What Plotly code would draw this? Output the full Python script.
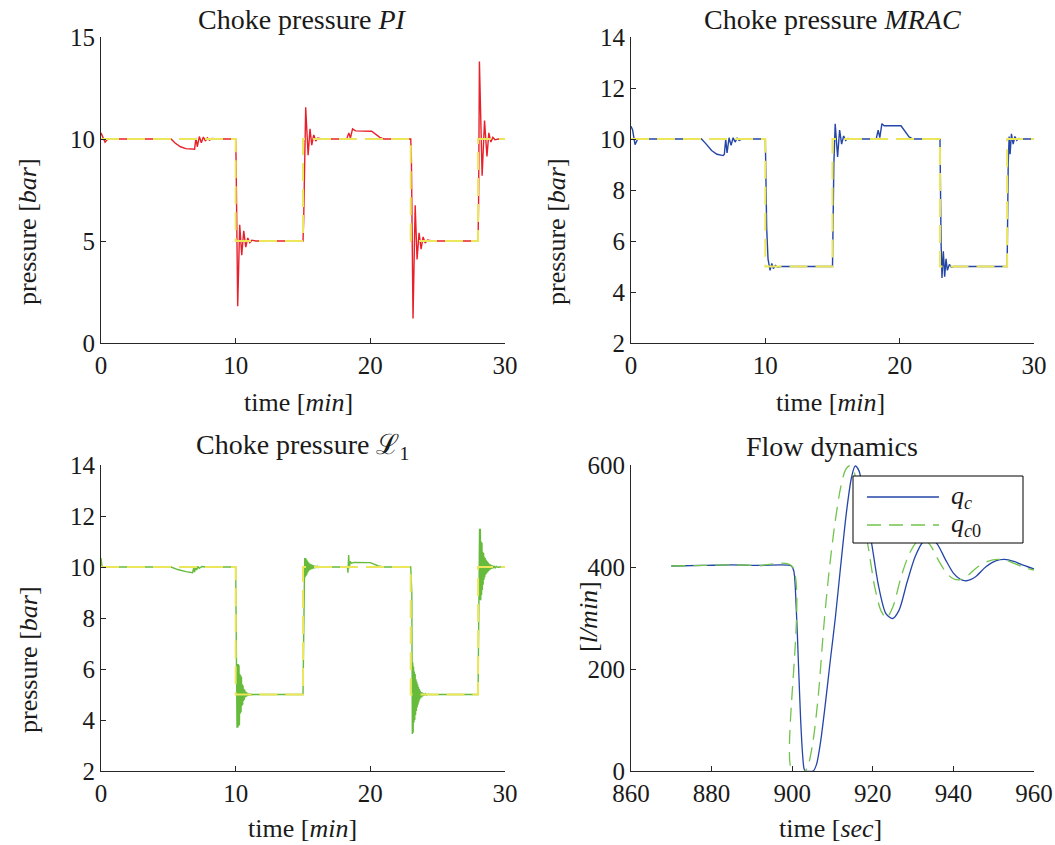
import plotly.graph_objects as go

W, H = 1055, 845
FONT = "Liberation Serif"
TXT = "#1a1a1a"
AX = "#262626"

# ---------------- data ----------------
# set-point (reference) for choke pressure [bar] vs time [min]
ref_t = [0, 10, 10, 15, 15, 23, 23, 28, 28, 30]
ref_v = [10, 10, 5, 5, 10, 10, 5, 5, 10, 10]

# PI controller response (time [min], pressure [bar])
pi_pts = [
    (0, 10.3), (0.12, 10.1), (0.3, 9.84), (0.5, 10.0), (0.8, 10.0),
    (5.2, 10.0), (5.5, 9.8), (5.9, 9.62), (6.3, 9.53), (6.8, 9.5),
    (6.95, 9.5), (7.05, 10.05), (7.15, 9.62), (7.3, 10.12), (7.45, 9.82),
    (7.6, 10.1), (7.75, 9.9), (7.9, 10.05), (8.05, 9.95), (8.25, 10.02), (8.6, 10.0),
    (10.0, 10.0), (10.03, 9.0), (10.15, 1.8), (10.3, 5.8), (10.45, 4.3),
    (10.6, 5.5), (10.75, 4.7), (10.9, 5.15), (11.05, 4.92), (11.2, 5.04), (11.5, 5.0),
    (15.0, 5.0), (15.05, 6.0), (15.2, 11.55), (15.38, 9.2), (15.52, 10.5),
    (15.65, 9.7), (15.8, 10.2), (15.95, 9.9), (16.1, 10.05), (16.4, 10.0),
    (18.25, 10.0), (18.4, 10.3), (18.52, 10.05), (18.68, 10.5), (18.9, 10.4),
    (20.1, 10.38), (20.4, 10.25), (20.7, 10.08), (21.0, 10.0),
    (23.0, 10.0), (23.05, 9.0), (23.17, 1.2), (23.33, 6.75), (23.47, 4.1),
    (23.62, 5.4), (23.77, 4.6), (23.92, 5.2), (24.07, 4.9), (24.25, 5.05), (24.6, 5.0),
    (28.0, 5.0), (28.04, 7.0), (28.1, 13.8), (28.3, 8.2), (28.48, 10.9),
    (28.66, 9.15), (28.8, 10.3), (28.95, 9.85), (29.1, 10.08), (29.25, 9.96),
    (29.5, 10.0), (30.0, 10.0),
]

# MRAC controller response
mrac_pts = [
    (0, 10.5), (0.12, 10.35), (0.3, 9.78), (0.5, 10.0), (0.8, 10.0),
    (5.25, 10.0), (5.6, 9.8), (6.0, 9.55), (6.4, 9.4), (6.86, 9.35),
    (6.95, 9.4), (7.05, 10.0), (7.15, 9.45), (7.3, 10.05), (7.45, 9.75),
    (7.6, 10.05), (7.75, 9.88), (7.9, 10.03), (8.05, 9.95), (8.25, 10.0),
    (10.0, 10.0), (10.1, 6.5), (10.2, 5.3), (10.35, 4.85), (10.48, 5.12),
    (10.6, 4.92), (10.75, 5.04), (10.9, 4.98), (11.2, 5.0),
    (15.0, 5.0), (15.1, 9.0), (15.2, 10.6), (15.38, 9.3), (15.53, 10.35),
    (15.68, 9.8), (15.83, 10.12), (15.98, 9.95), (16.15, 10.02), (16.4, 10.0),
    (18.25, 10.0), (18.4, 10.35), (18.52, 10.05), (18.68, 10.6), (18.85, 10.52),
    (20.1, 10.52), (20.4, 10.3), (20.7, 10.08), (21.0, 10.0),
    (23.0, 10.0), (23.08, 6.0), (23.15, 4.55), (23.25, 5.6), (23.35, 4.6),
    (23.45, 5.3), (23.55, 4.85), (23.7, 5.08), (23.85, 4.97), (24.0, 5.0),
    (28.0, 5.0), (28.08, 9.0), (28.15, 10.1), (28.22, 9.4), (28.32, 10.2),
    (28.45, 9.8), (28.58, 10.1), (28.72, 9.95), (28.88, 10.02), (29.1, 10.0), (30.0, 10.0),
]

# L1 adaptive controller response (fast chattering after each step)
l1_pts = [
    (0, 10.35), (0.08, 10.0), (5.2, 10.0), (5.7, 9.9), (6.3, 9.82), (6.8, 9.78),
    (6.88, 9.95), (6.95, 9.8), (7.02, 10.02), (7.1, 9.88), (7.2, 10.02), (7.3, 9.95),
    (7.5, 10.02), (7.8, 10.0),
    (10.0, 10.0), (10.05, 6.0), (10.10, 3.7), (10.13, 6.2), (10.16, 3.7), (10.19, 6.2),
    (10.22, 3.75), (10.25, 6.15), (10.28, 3.8), (10.31, 5.8), (10.34, 4.25), (10.37, 5.75),
    (10.40, 4.3), (10.43, 5.7), (10.46, 4.55), (10.49, 5.4), (10.52, 4.6), (10.55, 5.35),
    (10.58, 4.75), (10.61, 5.22), (10.64, 4.8), (10.67, 5.18), (10.70, 4.88), (10.73, 5.12),
    (10.76, 4.9), (10.79, 5.1), (10.82, 4.93), (10.86, 5.06), (10.90, 4.95), (10.94, 5.04),
    (10.98, 4.97), (11.03, 5.03), (11.08, 4.98), (11.14, 5.02), (11.2, 4.99), (11.3, 5.0),
    (15.0, 5.0), (15.1, 9.3), (15.13, 10.35), (15.16, 9.6), (15.19, 10.35), (15.22, 9.65),
    (15.25, 10.3), (15.28, 9.7), (15.31, 10.25), (15.34, 9.78), (15.37, 10.2), (15.40, 9.82),
    (15.43, 10.17), (15.46, 9.86), (15.49, 10.14), (15.52, 9.88), (15.55, 10.12), (15.58, 9.9),
    (15.62, 10.1), (15.66, 9.92), (15.70, 10.08), (15.74, 9.94), (15.78, 10.06), (15.82, 9.95),
    (15.87, 10.05), (15.92, 9.96), (15.97, 10.04), (16.03, 9.97), (16.1, 10.03), (16.17, 9.98),
    (16.25, 10.02), (16.35, 9.99), (16.5, 10.0),
    (18.3, 10.0), (18.34, 9.78), (18.39, 10.47), (18.44, 9.95), (18.5, 10.22), (18.6, 10.15),
    (18.8, 10.18), (20.0, 10.17), (20.3, 10.1), (20.6, 10.04), (21.0, 10.0),
    (23.0, 10.0), (23.08, 9.0), (23.12, 3.45), (23.15, 6.25), (23.18, 3.5), (23.21, 6.1),
    (23.24, 3.9), (23.27, 5.9), (23.30, 4.0), (23.33, 5.8), (23.36, 4.2), (23.39, 5.6),
    (23.42, 4.35), (23.45, 5.5), (23.48, 4.5), (23.51, 5.4), (23.54, 4.6), (23.57, 5.3),
    (23.60, 4.7), (23.63, 5.22), (23.66, 4.8), (23.70, 5.15), (23.74, 4.86), (23.78, 5.1),
    (23.82, 4.9), (23.87, 5.07), (23.92, 4.94), (23.97, 5.05), (24.03, 4.96), (24.1, 5.03),
    (24.18, 4.98), (24.28, 5.01), (24.45, 5.0),
    (28.0, 5.0), (28.08, 8.5), (28.11, 11.5), (28.14, 8.7), (28.17, 11.5), (28.20, 8.7),
    (28.23, 11.0), (28.26, 8.9), (28.29, 10.95), (28.32, 9.1), (28.35, 10.6), (28.38, 9.3),
    (28.41, 10.55), (28.44, 9.5), (28.47, 10.4), (28.50, 9.6), (28.53, 10.35), (28.56, 9.7),
    (28.60, 10.28), (28.64, 9.75), (28.68, 10.22), (28.72, 9.8), (28.76, 10.17), (28.80, 9.85),
    (28.85, 10.12), (28.90, 9.9), (28.95, 10.09), (29.0, 9.93), (29.06, 10.06), (29.12, 9.95),
    (29.19, 10.04), (29.27, 9.97), (29.36, 10.02), (29.46, 9.99), (29.6, 10.0), (30.0, 10.0),
]

# Flow dynamics (time [sec], flow [l/min])
qc_pts = [
    (870, 402), (878, 403), (885, 404), (892, 403), (899.8, 402), (900.4, 392),
    (901.0, 320), (901.6, 200), (902.1, 100), (902.6, 30), (903.0, 3), (903.4, 0),
    (905.2, 0), (906.0, 12), (907.0, 55), (908.2, 130), (909.5, 220), (910.7, 300),
    (912.0, 400), (913.5, 510), (914.7, 575), (915.6, 598), (916.6, 588), (918.0, 520),
    (919.7, 447), (921.5, 360), (923.3, 308), (924.9, 299), (926.5, 315), (928.5, 370),
    (930.5, 420), (932.5, 450), (934.2, 458), (936.0, 445), (938.0, 415), (940.0, 388),
    (941.7, 376), (943.2, 373), (945.5, 381), (948.0, 400), (950.5, 412), (952.7, 415),
    (955.0, 411), (957.5, 403), (960.0, 396),
]
qc0_pts = [
    (870, 402), (878, 403), (885, 404), (892, 403), (899.9, 402), (900.0, 0),
    (903.2, 0), (904.0, 12), (905.2, 60), (906.5, 150), (907.8, 280), (909.0, 380),
    (910.5, 480), (912.0, 555), (913.2, 590), (914.2, 598), (915.2, 590), (916.5, 540),
    (918.7, 447), (920.5, 360), (922.0, 315), (923.4, 300), (925.0, 322), (927.0, 380),
    (929.0, 425), (931.0, 450), (932.6, 456), (934.5, 440), (936.5, 410), (938.5, 386),
    (940.0, 377), (941.5, 375), (943.5, 383), (946.0, 400), (948.5, 411), (951.0, 415),
    (953.5, 412), (956.0, 404), (958.0, 398), (960.0, 394),
]

pi_ticks = [0, 5, 10, 15]
p_ticks = [2, 4, 6, 8, 10, 12, 14]
min_ticks = [0, 10, 20, 30]
sec_ticks = [860, 880, 900, 920, 940, 960]
flow_ticks = [0, 200, 400, 600]
legend_labels = ["<i>q<sub>c</sub></i>", "<i>q</i><sub><i>c</i>0</sub>"]

RED = "#e8202a"
BLUE = "#2546a8"
GREEN = "#66bb3c"
YELLOW = "#ece65a"
GREEN2 = "#72c44c"


def unzip(pts):
    return [p[0] for p in pts], [p[1] for p in pts]


def px(x, y):
    return x / W, 1 - y / H


fig = go.Figure()

pairs = [(pi_pts, RED, "x", "y"), (mrac_pts, BLUE, "x2", "y2"), (l1_pts, GREEN, "x3", "y3")]
for pts, col, xa, ya in pairs:
    t, v = unzip(pts)
    fig.add_trace(go.Scatter(x=t, y=v, mode="lines", line=dict(color=col, width=1.4),
                             xaxis=xa, yaxis=ya, showlegend=False))
    fig.add_trace(go.Scatter(x=ref_t, y=ref_v, mode="lines",
                             line=dict(color=YELLOW, width=2, dash="18px,8px"),
                             xaxis=xa, yaxis=ya, showlegend=False))

t, v = unzip(qc_pts)
fig.add_trace(go.Scatter(x=t, y=v, mode="lines", name=legend_labels[0],
                         line=dict(color=BLUE, width=1.3, shape="spline", smoothing=0.8),
                         xaxis="x4", yaxis="y4", showlegend=False))
t, v = unzip(qc0_pts)
fig.add_trace(go.Scatter(x=t, y=v, mode="lines", name=legend_labels[1],
                         line=dict(color=GREEN2, width=1.3, dash="14px,8px", shape="spline", smoothing=0.8),
                         xaxis="x4", yaxis="y4", showlegend=False))

xd_l = [101 / W, 505 / W]
xd_r = [631 / W, 1034 / W]
yd_t = [1 - 343 / H, 1 - 37 / H]
yd_b = [1 - 771 / H, 1 - 465 / H]

tickfont = dict(family=FONT, size=25, color=TXT)


def ax(domain, rng, ticks, anchor):
    return dict(domain=domain, range=rng, tickvals=ticks, anchor=anchor,
                showline=True, linecolor=AX, linewidth=1, ticks="inside", ticklen=5,
                tickcolor=AX, showgrid=False, zeroline=False, mirror=False,
                tickfont=tickfont, fixedrange=True, automargin=False)


fig.update_layout(
    xaxis=ax(xd_l, [0, 30], min_ticks, "y"),
    yaxis=ax(yd_t, [0, 15], pi_ticks, "x"),
    xaxis2=ax(xd_r, [0, 30], min_ticks, "y2"),
    yaxis2=ax(yd_t, [2, 14], p_ticks, "x2"),
    xaxis3=ax(xd_l, [0, 30], min_ticks, "y3"),
    yaxis3=ax(yd_b, [2, 14], p_ticks, "x3"),
    xaxis4=ax(xd_r, [860, 960], sec_ticks, "y4"),
    yaxis4=ax(yd_b, [0, 600], flow_ticks, "x4"),
)

annots = [
    ("Choke pressure <i>PI</i>", 302, 19, 0, 28),
    ("Choke pressure <i>MRAC</i>", 832, 19, 0, 28),
    ("Choke pressure ℒ<sub>1</sub>", 302, 447, 0, 28),
    ("Flow dynamics", 832, 447, 0, 28),
    ("time [<i>min</i>]", 298, 402, 0, 26),
    ("time [<i>min</i>]", 830, 402, 0, 26),
    ("time [<i>min</i>]", 302, 828, 0, 26),
    ("time [<i>sec</i>]", 830, 828, 0, 26),
    ("pressure [<i>bar</i>]", 28, 232, -90, 26),
    ("pressure [<i>bar</i>]", 557, 232, -90, 26),
    ("pressure [<i>bar</i>]", 28, 660, -90, 26),
    ("[<i>l/min</i>]", 588, 617, -90, 26),
]
for text, x, y, ang, size in annots:
    xp, yp = px(x, y)
    fig.add_annotation(text=text, x=xp, y=yp, xref="paper", yref="paper",
                       xanchor="center", yanchor="middle", showarrow=False,
                       textangle=ang, font=dict(family=FONT, size=size, color=TXT))

# hand-drawn legend box for the flow panel
bx0, by1 = px(853, 476)
bx1, by0 = px(1023, 543)
fig.add_shape(type="rect", xref="paper", yref="paper", x0=bx0, x1=bx1, y0=by0, y1=by1,
              line=dict(color="black", width=1), fillcolor="white", layer="above")
for i, (col, dash) in enumerate([(BLUE, "solid"), (GREEN2, "14px,8px")]):
    yy = 497 + 28 * i
    lx0, ly = px(867, yy)
    lx1, _ = px(939, yy)
    fig.add_shape(type="line", xref="paper", yref="paper", x0=lx0, x1=lx1, y0=ly, y1=ly,
                  line=dict(color=col, width=1.3, dash=dash), layer="above")
    tx, _ = px(949, yy)
    fig.add_annotation(text=legend_labels[i], x=tx, y=ly, xref="paper", yref="paper",
                       xanchor="left", yanchor="middle", showarrow=False,
                       font=dict(family=FONT, size=26, color=TXT))

fig.update_layout(
    width=W, height=H,
    margin=dict(l=0, r=0, t=0, b=0),
    paper_bgcolor="white", plot_bgcolor="white",
    font=dict(family=FONT, size=25, color=TXT),
    showlegend=False,
)

fig.write_html("out.html", config={"displayModeBar": False},
               post_script="document.body.style.margin='0px';")
